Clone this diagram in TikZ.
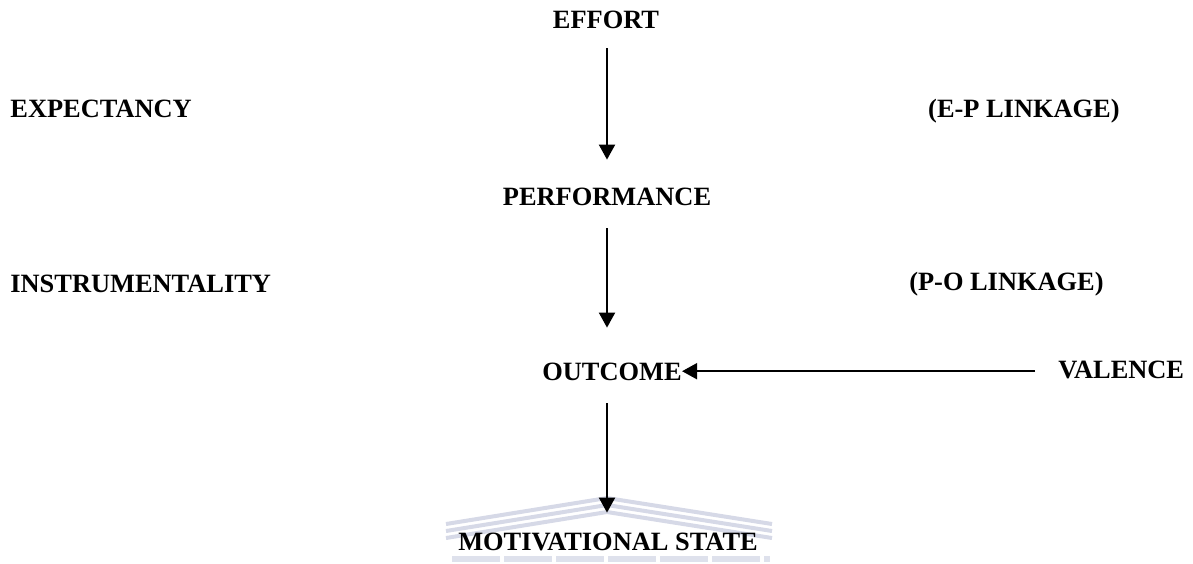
\documentclass[tikz,border=0pt]{standalone}
\usepackage{fontspec}
\setmainfont{Liberation Serif}
\usetikzlibrary{arrows.meta}
\definecolor{wmark}{RGB}{214,217,231}

\def\xm{607}
\def\lw{1pt}
\def\sw{7}

\begin{document}
\begin{tikzpicture}[x=0.5pt,y=-0.5pt,
  every node/.style={font=\fontsize{13.2}{16}\selectfont\bfseries,
    inner sep=0pt, text height=8.8pt, text depth=0pt},
  arr/.style={line width=\lw, -{Triangle[length=7.5pt,width=8pt]}}]
 \useasboundingbox (0,0) rectangle (1193,563);

\ifnum1=1 % set to 0 to hide the watermark
\foreach \i in {0,1,2} {
  \draw[wmark, line width=2pt] (446,524+\sw*\i) -- (\xm,498+\sw*\i) -- (772,524+\sw*\i);
}
\draw[wmark!80, line width=3pt, dash pattern=on 24pt off 2pt] (452,559) -- (770,559);
\fi

 \node[anchor=base] (E) at (606,28) {EFFORT};
 \node[anchor=base] (P) at (607,205) {PERFORMANCE};
 \node[anchor=base] (O) at (612,380) {OUTCOME};
 \node[anchor=base] (M) at (608,550) {MOTIVATIONAL STATE};

 \node[anchor=base west] (Ex) at (10,117) {EXPECTANCY};
 \node[anchor=base west] (In) at (10,292) {INSTRUMENTALITY};
 \node[anchor=base east] (EP) at (1120,117) {(E-P LINKAGE)};
 \node[anchor=base east] (PO) at (1104,290) {(P-O LINKAGE)};
 \node[anchor=base west] (V) at (1058,378) {VALENCE};

 \draw[arr, shorten <=10pt, shorten >=13.7pt] (\xm,0 |- E.south) -- (\xm,0 |- P.north);
 \draw[arr, shorten <=11.5pt, shorten >=17.2pt] (\xm,0 |- P.south) -- (\xm,0 |- O.north);
 \draw[arr, shorten <=11.5pt, shorten >=9.7pt] (\xm,0 |- O.south) -- (\xm,0 |- M.north);
 \draw[arr, shorten <=11.5pt] (V.west |- O.east) -- (O.east);
\end{tikzpicture}
\end{document}
